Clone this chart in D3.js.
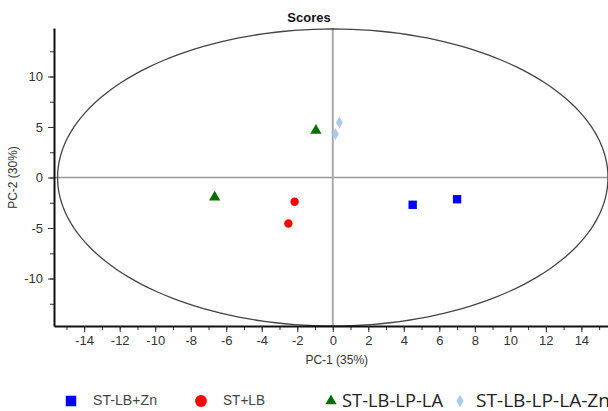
<!DOCTYPE html>
<html>
<head>
<meta charset="utf-8">
<script src="https://cdn.jsdelivr.net/npm/d3@7"></script>
<style>
  body { margin: 0; background: #fff; }
  svg { display: block; font-family: "Liberation Sans", Arial, sans-serif; }
</style>
</head>
<body>
<svg id="chart" width="608" height="411"></svg>
<script>
// PCA scores plot - PC-1 vs PC-2 with Hotelling ellipse

const groups = ['ST-LB+Zn', 'ST+LB', 'ST-LB-LP-LA', 'ST-LB-LP-LA-Zn'];
const pc1Values = [
  [4.5, 7.0],     // ST-LB+Zn
  [-2.15, -2.5],  // ST+LB
  [-0.95, -6.65], // ST-LB-LP-LA
  [0.37, 0.15]    // ST-LB-LP-LA-Zn
];
const pc2Values = [
  [-2.7, -2.15],
  [-2.4, -4.55],
  [4.65, -1.95],
  [5.45, 4.3]
];
const xTicks = [-14, -12, -10, -8, -6, -4, -2, 0, 2, 4, 6, 8, 10, 12, 14];
const yTicks = [-10, -5, 0, 5, 10];
const ellipseRadii = [15.5, 14.7];

const colors = ['#0000ff', '#ff0000', '#007000', '#a9c9ee'];
const symbols = [d3.symbolSquare, d3.symbolCircle, d3.symbolTriangle, d3.symbolDiamond];

const svg = d3.select('#chart');

const x = d3.scaleLinear().domain([-15.7, 15.5]).range([54, 608]);
const y = d3.scaleLinear().domain([-14.7, 14.8]).range([326, 28]);

// title
svg.append('text')
  .attr('x', 309)
  .attr('y', 22)
  .attr('text-anchor', 'middle')
  .attr('font-size', '13px')
  .attr('font-weight', 'bold')
  .attr('fill', '#111')
  .text('Scores');

// zero lines
svg.append('line')
  .attr('x1', x(-15.7)).attr('x2', x(15.5))
  .attr('y1', y(0)).attr('y2', y(0))
  .attr('stroke', '#999').attr('stroke-width', 1.5);
svg.append('line')
  .attr('x1', x(0)).attr('x2', x(0))
  .attr('y1', y(14.8)).attr('y2', y(-14.7))
  .attr('stroke', '#aaa').attr('stroke-width', 2);

// ellipse
const ellipsePts = d3.range(0, 361, 2).map(a => {
  const t = a * Math.PI / 180;
  return [ellipseRadii[0] * Math.cos(t), ellipseRadii[1] * Math.sin(t)];
});
svg.append('path')
  .datum(ellipsePts)
  .attr('d', d3.line().x(d => x(d[0])).y(d => y(d[1])).curve(d3.curveLinearClosed))
  .attr('fill', 'none')
  .attr('stroke', '#444')
  .attr('stroke-width', 1.3);

// axes
const xMinor = d3.range(-15, 16, 1);
const yMinor = d3.range(-12.5, 14, 2.5);
const plainFormat = d => String(d); // hyphen minus like the original

const xAxisMinor = svg.append('g')
  .attr('transform', `translate(0,${y(-14.7)})`)
  .call(d3.axisBottom(x).tickValues(xMinor).tickSize(4).tickFormat(''));
xAxisMinor.select('.domain').remove();

const xAxis = svg.append('g')
  .attr('transform', `translate(0,${y(-14.7)})`)
  .call(d3.axisBottom(x).tickValues(xTicks).tickSize(6).tickSizeOuter(0).tickPadding(4).tickFormat(plainFormat));
xAxis.select('.domain').attr('stroke', '#111').attr('stroke-width', 2);

const yAxisMinor = svg.append('g')
  .attr('transform', `translate(${x(-15.7)},0)`)
  .call(d3.axisLeft(y).tickValues(yMinor).tickSize(4).tickFormat(''));
yAxisMinor.select('.domain').remove();

const yAxis = svg.append('g')
  .attr('transform', `translate(${x(-15.7)},0)`)
  .call(d3.axisLeft(y).tickValues(yTicks).tickSize(6).tickSizeOuter(0).tickPadding(5).tickFormat(plainFormat));
yAxis.select('.domain').attr('stroke', '#111').attr('stroke-width', 2);

svg.selectAll('.tick line').attr('stroke', '#333');
svg.selectAll('.tick text')
  .attr('font-size', '13px')
  .attr('fill', '#333')
  .attr('font-family', '"Liberation Sans Narrow", "Liberation Sans", Arial, sans-serif');

// axis titles
svg.append('text')
  .attr('x', x(0) + 4)
  .attr('y', 364)
  .attr('text-anchor', 'middle')
  .attr('font-size', '12px')
  .attr('fill', '#333')
  .attr('font-family', '"Liberation Sans Narrow", "Liberation Sans", Arial, sans-serif')
  .text('PC-1 (35%)');

svg.append('text')
  .attr('transform', `translate(17,${y(0)}) rotate(-90)`)
  .attr('text-anchor', 'middle')
  .attr('font-size', '12px')
  .attr('fill', '#333')
  .attr('font-family', '"Liberation Sans Narrow", "Liberation Sans", Arial, sans-serif')
  .text('PC-2 (30%)');

// points
const symbolSizes = [70, 55, 55, 40];
groups.forEach((g, i) => {
  svg.selectAll('.pt-' + i)
    .data(pc1Values[i].map((v, j) => [v, pc2Values[i][j]]))
    .enter()
    .append('path')
    .attr('class', 'pt-' + i)
    .attr('transform', d => `translate(${x(d[0])},${y(d[1])})`)
    .attr('d', d3.symbol().type(symbols[i]).size(symbolSizes[i]))
    .attr('fill', colors[i]);
});

// legend
const legendX = [71, 201, 331, 460];
const legendTextX = [93, 223, 342, 476];
const legendSymbolSizes = [110, 110, 55, 45];
const legendFonts = [
  { size: '15px', fill: '#444', family: '"Liberation Sans Narrow", "Liberation Sans", Arial, sans-serif', len: 64 },
  { size: '15px', fill: '#444', family: '"Liberation Sans Narrow", "Liberation Sans", Arial, sans-serif', len: 42 },
  { size: '18px', fill: '#222', family: '"Open Sans", "Noto Sans", sans-serif', len: 101 },
  { size: '18px', fill: '#222', family: '"Open Sans", "Noto Sans", sans-serif', len: 134 }
];

groups.forEach((g, i) => {
  svg.append('path')
    .attr('transform', `translate(${legendX[i]},401)`)
    .attr('d', d3.symbol().type(symbols[i]).size(legendSymbolSizes[i]))
    .attr('fill', colors[i]);
  svg.append('text')
    .attr('x', legendTextX[i])
    .attr('y', i < 2 ? 405 : 407)
    .attr('font-size', legendFonts[i].size)
    .attr('font-family', legendFonts[i].family)
    .attr('fill', legendFonts[i].fill)
    .attr('textLength', legendFonts[i].len)
    .attr('lengthAdjust', 'spacingAndGlyphs')
    .text(g);
});
</script>
</body>
</html>
